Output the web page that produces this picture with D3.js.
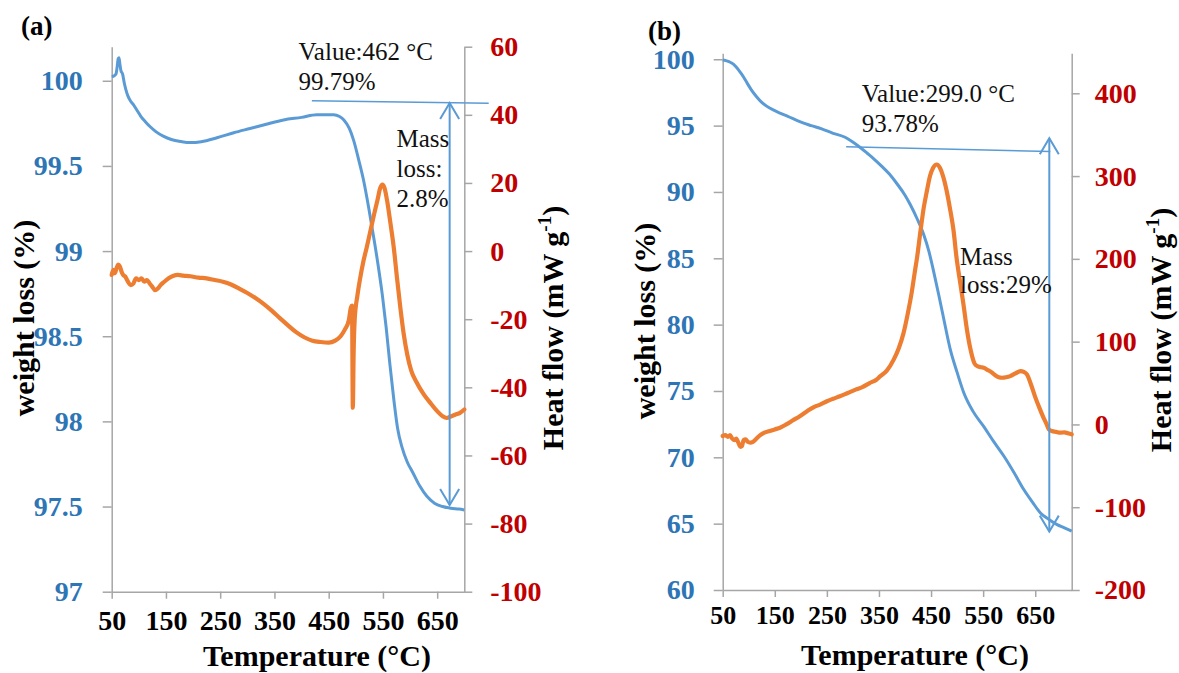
<!DOCTYPE html>
<html>
<head>
<meta charset="utf-8">
<script src="https://cdn.jsdelivr.net/npm/d3@7/dist/d3.min.js"></script>
<style>
  body { margin: 0; background: #fff; }
  svg { display: block; }
</style>
</head>
<body>
<svg id="chart" width="1179" height="673"></svg>
<script>
// ---- axis ticks ----
const tempTicks  = [50, 150, 250, 350, 450, 550, 650];
const massTicksA = [97, 97.5, 98, 98.5, 99, 99.5, 100];
const heatTicksA = [-100, -80, -60, -40, -20, 0, 20, 40, 60];
const massTicksB = [60, 65, 70, 75, 80, 85, 90, 95, 100];
const heatTicksB = [-200, -100, 0, 100, 200, 300, 400];

// ---- sample (a): TG mass (%) vs temperature (°C) ----
const tgA = [
  [50,100.025],[55,100.03],[58,100.04],[60,100.08],[62,100.13],[63.5,100.135],[65,100.10],
  [67,100.06],[70,100.04],[73,99.99],[76,99.95],[80,99.91],[85,99.88],[90,99.86],[96,99.83],
  [104,99.79],[112,99.76],[121,99.73],[132,99.70],[145,99.675],[160,99.655],[178,99.643],
  [195,99.637],[215,99.642],[244,99.665],[275,99.695],[305,99.72],[335,99.745],[367,99.77],
  [400,99.785],[428,99.80],[445,99.80],[459,99.80],[470,99.79],[478,99.77],[488,99.72],
  [496,99.65],[505,99.54],[514,99.42],[524,99.25],[533,99.08],[541,98.92],[549,98.74],
  [556,98.55],[563,98.33],[570,98.13],[577,97.96],[585,97.85],[595,97.76],[605,97.70],
  [618,97.62],[631,97.56],[645,97.52],[660,97.50],[675,97.49],[690,97.485],[700,97.48]
];
// ---- sample (a): DSC heat flow (mW/g) ----
const dscA = [
  [50,-7.0],[53,-5.5],[56,-6.5],[59,-5.0],[62,-4.0],[65,-4.5],[68,-6.0],[71,-7.0],[75,-7.5],
  [80,-9.0],[85,-10.0],[90,-9.5],[95,-8.0],[100,-8.5],[105,-8.0],[110,-9.0],[115,-8.5],
  [120,-9.5],[125,-10.5],[130,-11.5],[135,-11.0],[140,-10.0],[147,-9.0],[155,-8.0],[163,-7.3],
  [172,-7.0],[182,-7.2],[195,-7.4],[210,-7.8],[225,-8.0],[240,-8.5],[255,-9.0],[270,-9.8],
  [285,-11.0],[300,-12.3],[315,-13.8],[330,-15.5],[345,-17.5],[360,-19.7],[375,-21.8],
  [390,-23.8],[405,-25.3],[420,-26.3],[435,-26.7],[450,-26.9],[462,-26.3],[472,-25.0],
  [480,-23.0],[487,-20.4],[491,-16.5],[493,-16.0],[494.5,-46.0],[496,-30.0],[498,-20.0],
  [503,-13.0],[508,-8.0],[514,-3.0],[520,1.0],[527,6.0],[534,11.0],[540,15.0],[545,18.5],
  [549,19.5],[553,18.5],[558,14.5],[564,8.0],[570,1.0],[576,-8.0],[582,-16.5],[588,-24.0],
  [595,-30.5],[602,-35.0],[612,-38.5],[625,-42.0],[637,-44.5],[650,-47.0],[660,-48.5],
  [668,-49.0],[676,-48.5],[684,-48.0],[692,-47.5],[700,-46.5]
];

// ---- sample (b): TG mass (%) ----
const tgB = [
  [50,99.95],[56,99.90],[62,99.82],[67,99.72],[71,99.62],[75,99.45],[80,99.22],[85,98.95],
  [90,98.66],[97,98.2],[105,97.7],[115,97.18],[125,96.75],[135,96.45],[147,96.18],[160,95.95],
  [175,95.70],[198,95.30],[220,95.00],[240,94.75],[262,94.42],[285,94.12],[299,93.78],
  [314,93.35],[328,92.9],[340,92.5],[355,91.95],[370,91.35],[385,90.6],[400,89.75],
  [410,89.05],[423,88.0],[436,86.77],[446,85.5],[455,84.0],[465,82.2],[474,80.5],[487,78.11],
  [500,76.4],[513,74.85],[530,73.5],[551,72.33],[570,71.2],[590,70.08],[610,68.8],
  [628,67.57],[645,66.6],[660,65.81],[677,65.3],[692,64.93],[705,64.7],[720,64.43]
];
// ---- sample (b): DSC heat flow (mW/g) ----
const dscB = [
  [50,-14],[55,-13],[60,-15],[64,-13],[68,-17],[72,-19],[76,-17],[80,-22],[84,-27],[87,-26],
  [90,-19],[94,-18],[98,-21],[103,-22],[108,-21],[115,-17],[122,-13],[130,-10],[140,-8],
  [150,-6],[160,-4],[172,0],[185,5],[198,10],[212,16],[225,21],[237,24],[250,28],[262,31],
  [275,34],[290,38],[305,42],[318,45],[332,50],[345,54],[352,58],[365,65],[378,78],[388,92],
  [397,110],[405,133],[413,160],[419,185],[423,201],[430,235],[436,262],[442,282],[448,300],
  [454,310],[461,314],[467,310],[473,300],[480,282],[486,262],[493,235],[499,201],[505,175],
  [512,146],[519,114],[526,90],[534,73],[540,70],[546,69],[551,68.5],[558,66],[564,64],
  [572,60],[580,57],[586,56.4],[594,57],[602,58.4],[610,61],[616,63],[622,64.4],[628,63.5],
  [634,60.4],[642,48],[650,33],[658,20],[666,8],[672,0],[676,-6],[682,-8],[690,-9],
  [698,-10],[706,-9.5],[714,-11],[720,-12]
];

// ---- mass-loss annotations (temperature °C, mass %) ----
const guideA  = [[419, 99.882], [745, 99.868]];   // horizontal reference line
const arrowA  = [673, 99.869, 97.509];            // temperature, top, bottom
const valueA  = ["Value:462 °C", "99.79%"];
const lossA   = ["Mass", "loss:", "2.8%"];
const guideB  = [[287, 93.41], [679, 93.04]];
const arrowB  = [677, 94.05, 64.40];
const valueB  = ["Value:299.0 °C", "93.78%"];
const lossB   = ["Mass", "loss:29%"];

const BLUE = "#5b9bd5", ORANGE = "#ed7d31", AXIS = "#a6a6a6";
const TICK_BLUE = "#2e75b6", TICK_RED = "#c00000";
const FONT = "Liberation Serif";

const svg = d3.select("#chart");
svg.append("rect").attr("width", 1179).attr("height", 673).attr("fill", "#fff");

function heavy(sel, color) {
  sel.attr("font-family", FONT).attr("font-weight", "bold").attr("fill", color);
}

function styleAxis(g, color, size) {
  g.attr("font-family", FONT);
  g.selectAll(".domain").attr("stroke", AXIS).attr("stroke-width", 1.5);
  g.selectAll(".tick line").attr("stroke", AXIS).attr("stroke-width", 1.5);
  g.selectAll(".tick text").call(heavy, color).attr("font-size", size);
}

function drawPanel(p) {
  const x = d3.scaleLinear().domain(p.xDomain).range(p.xRange);
  const yL = d3.scaleLinear().domain(p.leftDomain).range(p.yRange);
  const yR = d3.scaleLinear().domain(p.rightDomain).range(p.yRange);
  const g = svg.append("g");

  // axes
  const gx = g.append("g").attr("transform", `translate(0,${p.yRange[0]})`)
    .call(d3.axisBottom(x).tickValues(tempTicks).tickFormat(d3.format("d"))
      .tickSize(7).tickSizeOuter(0).tickPadding(p.xPad));
  styleAxis(gx, "#000", p.xFont);

  const gl = g.append("g").attr("transform", `translate(${p.xRange[0]},0)`)
    .call(d3.axisLeft(yL).tickValues(p.leftTicks).tickFormat(d => String(d))
      .tickSize(9).tickSizeOuter(0).tickPadding(p.lPad));
  styleAxis(gl, TICK_BLUE, 28);

  const gr = g.append("g").attr("transform", `translate(${p.xRange[1]},0)`)
    .call(d3.axisRight(yR).tickValues(p.rightTicks).tickFormat(d => String(d))
      .tickSize(8).tickSizeOuter(0).tickPadding(p.rPad));
  styleAxis(gr, TICK_RED, 28);

  // curves
  const lineL = d3.line().x(d => x(d[0])).y(d => yL(d[1])).curve(d3.curveMonotoneX);
  const lineR = d3.line().x(d => x(d[0])).y(d => yR(d[1])).curve(d3.curveMonotoneX);
  g.append("path").datum(p.tg).attr("d", lineL)
    .attr("fill", "none").attr("stroke", BLUE).attr("stroke-width", 3)
    .attr("stroke-linejoin", "round");
  g.append("path").datum(p.dsc).attr("d", lineR)
    .attr("fill", "none").attr("stroke", ORANGE).attr("stroke-width", 4.2)
    .attr("stroke-linejoin", "round").attr("stroke-linecap", "round");

  // mass-loss annotation
  g.append("line")
    .attr("x1", x(p.guide[0][0])).attr("y1", yL(p.guide[0][1]))
    .attr("x2", x(p.guide[1][0])).attr("y2", yL(p.guide[1][1]))
    .attr("stroke", BLUE).attr("stroke-width", 1.5);
  const ax = x(p.arrow[0]), aTop = yL(p.arrow[1]), aBot = yL(p.arrow[2]);
  g.append("line").attr("x1", ax).attr("x2", ax).attr("y1", aTop).attr("y2", aBot)
    .attr("stroke", BLUE).attr("stroke-width", 2);
  g.append("path")
    .attr("d", `M${ax - 9.5},${aTop + 16}L${ax},${aTop}L${ax + 9.5},${aTop + 16}` +
               `M${ax - 9.5},${aBot - 16}L${ax},${aBot}L${ax + 9.5},${aBot - 16}`)
    .attr("fill", "none").attr("stroke", BLUE).attr("stroke-width", 2);

  const note = (lines, pos, step) => {
    const t = g.append("text")
      .attr("font-family", FONT).attr("font-size", 25).attr("fill", "#111");
    lines.forEach((s, i) => {
      t.append("tspan").attr("x", x(pos[0])).attr("y", yL(pos[1]) + i * step).text(s);
    });
  };
  note(p.valueText, p.valuePos, 30);
  note(p.lossText, p.lossPos, p.lossStep);

  // titles
  g.append("text").call(heavy, "#000").attr("font-size", 30).attr("text-anchor", "middle")
    .attr("x", p.xTitle[0]).attr("y", p.xTitle[1]).text("Temperature (°C)");
  g.append("text").call(heavy, "#000").attr("font-size", 30).attr("text-anchor", "middle")
    .attr("transform", `translate(${p.lTitle[0]},${p.lTitle[1]}) rotate(-90)`)
    .text("weight loss (%)");
  const rt = g.append("text").call(heavy, "#000").attr("font-size", 30)
    .attr("text-anchor", "middle")
    .attr("transform", `translate(${p.rTitle[0]},${p.rTitle[1]}) rotate(-90)`);
  rt.append("tspan").text("Heat flow (mW g");
  rt.append("tspan").attr("font-size", 19).attr("dy", -12).text("-1");
  rt.append("tspan").attr("dy", 12).text(")");
  g.append("text").call(heavy, "#000").attr("font-size", 27)
    .attr("x", p.tag[0]).attr("y", p.tag[1]).text(p.tagText);
}

drawPanel({
  xDomain: [50, 700], xRange: [111.7, 464.3],
  leftDomain: [97, 100.2], rightDomain: [-100, 60], yRange: [591.7, 46.7],
  leftTicks: massTicksA, rightTicks: heatTicksA,
  xPad: 11, xFont: 28, lPad: 20, rPad: 18,
  tg: tgA, dsc: dscA,
  guide: guideA, arrow: arrowA,
  valueText: valueA, valuePos: [394.5, 100.123],
  lossText: lossA, lossPos: [575, 99.614], lossStep: 30,
  xTitle: [317, 666], lTitle: [34, 318], rTitle: [563, 328],
  tag: [21, 35], tagText: "(a)"
});

drawPanel({
  xDomain: [50, 720], xRange: [722.7, 1071.7],
  leftDomain: [60, 100.45], rightDomain: [-200, 448.3], yRange: [590, 53.3],
  leftTicks: massTicksB, rightTicks: heatTicksB,
  xPad: 9, xFont: 26, lPad: 19, rPad: 15,
  tg: tgB, dsc: dscB,
  guide: guideB, arrow: arrowB,
  valueText: valueB, valuePos: [317, 96.80],
  lossText: lossB, lossPos: [505.7, 84.5], lossStep: 28.5,
  xTitle: [915, 665], lTitle: [655, 321], rTitle: [1171, 330],
  tag: [648, 40], tagText: "(b)"
});
</script>
</body>
</html>
